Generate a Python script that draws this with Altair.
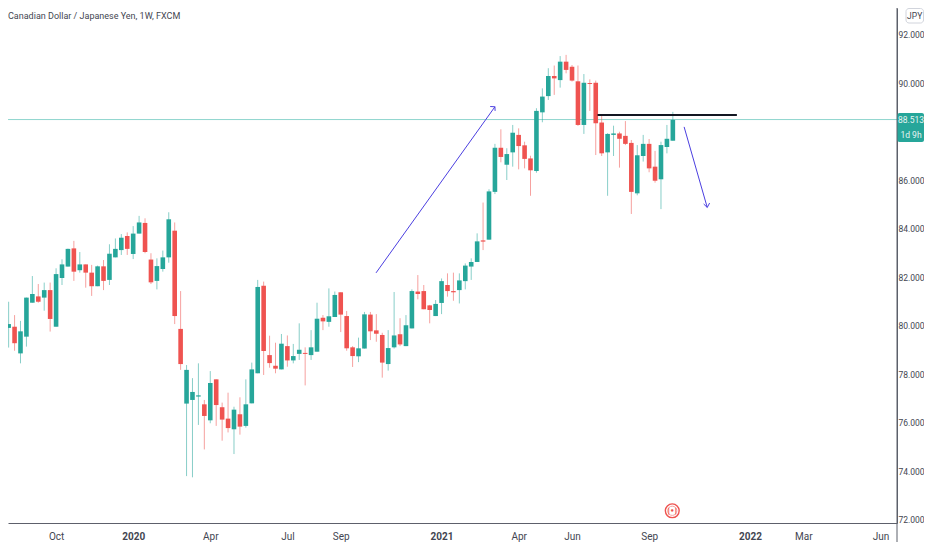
import altair as alt
import pandas as pd

# one letter per weekly candle: u = close above open, d = close below open
direction_blocks = [
    "duduuududu", "uududdudUu".lower(), "uduudduuud", "duuududddu",
    "duuuddduDu".lower(), "uduuduuddd", "uuddduuduu", "ddduudduuu",
    "uduuduuddd", "uuududdDud".lower(), "dduuddduud", "duuu",
]
directions = list("".join(direction_blocks))

highs = [81.14,81.00,80.45,80.21,81.17,82.06,81.73,81.79,81.79,82.38,
         82.75,83.19,83.51,83.05,82.54,82.52,82.49,82.72,83.37,83.61,
         83.79,83.86,84.12,84.54,84.44,83.00,82.79,83.11,84.69,84.27,
         81.44,78.39,77.85,78.46,76.95,78.14,77.80,76.84,77.25,76.67,
         77.06,77.80,78.49,81.90,81.83,79.60,79.31,79.67,79.61,79.26,
         80.11,79.12,79.83,80.96,80.45,81.55,81.42,81.39,80.62,79.17,
         79.52,80.58,80.58,80.49,79.72,79.83,81.40,80.32,80.45,81.51,
         82.10,81.69,80.87,81.07,81.96,82.17,82.20,82.17,82.58,82.79,
         83.82,85.09,85.64,87.51,88.11,87.33,88.29,88.15,87.60,87.02,
         88.98,89.80,90.63,90.74,91.13,91.18,90.76,90.74,90.39,90.17,
         90.12,88.70,87.95,88.26,88.01,88.45,87.67,87.46,87.88,87.71,
         87.22,87.60,88.29,88.83]
tops = [80.59,80.08,79.97,79.78,81.17,81.32,81.22,81.48,81.48,82.14,
        82.54,83.18,83.20,82.54,82.54,82.20,82.46,82.46,82.98,83.18,
        83.64,83.71,83.81,84.27,84.25,82.74,82.47,82.83,84.40,83.93,
        79.88,78.19,77.28,77.14,76.77,77.65,77.80,76.65,76.18,76.55,
        76.36,76.77,78.21,81.61,81.66,78.80,78.36,79.27,79.17,78.76,
        79.02,78.89,79.12,80.30,80.34,80.40,81.28,81.39,80.41,79.12,
        79.08,80.48,80.47,79.82,79.63,79.09,79.61,79.66,80.03,81.44,
        81.42,81.44,80.85,80.91,81.85,81.69,81.44,81.88,82.49,82.64,
        83.49,83.53,85.55,87.35,87.35,87.09,87.97,87.88,87.45,86.91,
        88.87,89.46,90.31,90.31,90.90,90.90,90.69,90.09,90.03,90.02,
        90.03,88.39,87.92,87.94,87.94,87.84,87.55,87.04,87.51,87.51,
        86.57,87.46,87.72,88.50]
bottoms = [79.88,79.92,79.29,78.87,79.56,80.96,81.00,81.17,80.29,79.97,
           81.98,82.45,82.24,82.30,82.20,81.64,81.64,81.86,81.90,82.83,
           83.13,83.18,82.97,83.81,83.05,81.80,81.86,82.35,82.83,80.41,
           78.43,76.80,76.95,77.09,76.29,76.11,76.74,76.14,75.79,75.74,
           75.85,75.88,76.81,78.05,78.97,78.47,78.24,78.21,78.58,78.58,
           78.85,78.85,78.80,78.94,80.19,80.17,80.37,80.47,79.08,78.76,
           78.75,79.07,79.78,79.68,78.49,78.43,79.12,79.24,79.17,79.90,
           81.32,80.69,80.66,80.41,80.95,81.44,81.39,81.48,81.85,82.45,
           82.64,83.48,83.56,85.53,86.97,86.65,87.16,87.42,86.89,86.42,
           86.39,88.81,89.48,90.21,90.14,90.56,90.12,88.29,88.29,89.98,
           88.36,87.12,87.16,87.88,87.72,87.51,85.53,85.47,87.01,86.50,
           85.99,86.05,87.38,87.64]
lows = [79.05,79.11,78.98,78.46,79.15,80.96,80.96,80.63,79.77,79.97,
        81.69,82.45,81.86,82.20,81.58,81.24,81.64,81.48,81.69,82.83,
        82.93,82.93,82.76,83.81,83.00,81.73,81.51,82.24,82.61,80.08,
        78.19,73.81,73.76,75.92,74.91,75.99,75.88,75.27,75.61,74.72,
        75.52,75.81,76.81,78.05,77.98,78.28,78.05,78.21,78.32,78.46,
        78.60,77.55,78.60,78.94,79.83,79.97,80.37,79.75,78.98,78.31,
        78.51,79.07,79.42,79.35,77.87,78.16,79.07,79.17,79.17,79.90,
        81.10,80.69,80.11,80.41,80.49,81.21,81.04,80.93,81.51,81.90,
        82.64,83.13,83.56,85.44,86.75,86.02,86.57,86.46,86.50,85.37,
        86.32,88.40,89.32,89.53,89.83,90.42,90.08,88.25,87.92,88.87,
        87.05,87.01,85.37,87.01,86.53,87.46,84.62,85.39,86.78,86.34,
        85.91,84.82,87.12,87.64]

first_monday = pd.Timestamp("2019-08-05")
MS_WEEK = 7 * 24 * 3600 * 1000


def week_ms(week):
    return int(first_monday.value // 10**6 + week * MS_WEEK)


def date_ms(text):
    return int(pd.Timestamp(text).value // 10**6)


candles = pd.DataFrame({
    "t": [week_ms(i) for i in range(len(highs))],
    "high": highs, "top": tops, "bottom": bottoms, "low": lows,
    "dir": directions,
})

tick_dates = ["2019-08-05", "2019-10-07", "2020-01-06", "2020-04-06", "2020-07-06",
              "2020-09-07", "2021-01-04", "2021-04-05", "2021-06-07", "2021-09-06",
              "2022-01-03", "2022-03-07", "2022-06-06"]
price_ticks = [72, 74, 76, 78, 80, 82, 84, 86, 90, 92]

arrow_up_weeks = [62.95, 83.0, None, 82.2, 83.0, 83.03]
arrow_up_prices = [82.19, 89.04, None, 89.05, 89.04, 88.87]
arrow_down_weeks = [114.9, 118.8, None, 118.2, 118.8, 119.2]
arrow_down_prices = [88.21, 84.89, None, 85.03, 84.89, 85.07]
level_weeks = [100.3, 123.8]
level_price = 88.70
last_price = 88.513
last_price_weeks = [0.9, 150.8]
flag_week = 112.9
flag_price = 72.38

TEAL, RED = "#26a69a", "#ef5350"
AXIS = "#5d606b"
TEXT = "#434651"
FONT = "Roboto"

x_scale = alt.Scale(type="utc", padding=0,
                    domain=[date_ms("2019-08-11T06:00:00"), date_ms("2022-06-25T14:00:00")])
y_scale = alt.Scale(domain=[71.876, 93.113], nice=False, zero=False)
x_axis = alt.Axis(
    values=[date_ms(d) for d in tick_dates],
    labelExpr="utcmonth(datum.value)==0 ? utcFormat(datum.value,'%Y') : utcFormat(datum.value,'%b')",
    labelFontWeight={"condition": {"test": "utcmonth(datum.value)==0", "value": "bold"}, "value": "normal"},
    grid=False, ticks=False, domainColor=AXIS, domainWidth=1, labelColor=TEXT, labelFont=FONT,
    labelFontSize=10, labelPadding=8, labelOverlap=False, labelBound=False, labelFlush=False, title=None)
y_axis = alt.Axis(
    orient="right", values=price_ticks, format=".3f", grid=False, ticks=False,
    domainColor=AXIS, domainWidth=1, labelColor=TEXT, labelFont=FONT, labelFontSize=8.5,
    labelPadding=1, labelOverlap=False, labelBound=False, title=None)
X = alt.X("t:T", scale=x_scale, axis=x_axis)
color = alt.Color("dir:N", legend=None, scale=alt.Scale(domain=["u", "d"], range=[TEAL, RED]))


def Y(field):
    return alt.Y(field + ":Q", scale=y_scale, axis=y_axis)


wicks = alt.Chart(candles).mark_rule(strokeWidth=1, opacity=0.55).encode(
    x=X, y=Y("low"), y2="high:Q", color=color)
bodies = alt.Chart(candles).mark_bar(size=4.6).encode(
    x=X, y=Y("top"), y2="bottom:Q", color=color)


def line_frame(weeks, prices):
    rows, seg = [], 0
    for w, p in zip(weeks, prices):
        if w is None:
            seg += 1
        else:
            rows.append({"t": week_ms(w), "p": p, "seg": seg})
    return pd.DataFrame(rows)


def line_layer(frame, col, width):
    return alt.Chart(frame).mark_line(color=col, strokeWidth=width).encode(
        x=X, y=Y("p"), detail="seg:N")


arrow_up = line_layer(line_frame(arrow_up_weeks, arrow_up_prices), "#4b3fe0", 1)
arrow_down = line_layer(line_frame(arrow_down_weeks, arrow_down_prices), "#4b3fe0", 1)
level = line_layer(line_frame(level_weeks, [level_price, level_price]), "#131722", 2)
price_line = line_layer(line_frame(last_price_weeks, [last_price, last_price]), "#8fd6ce", 1)

price_df = pd.DataFrame({"p": [last_price]})
tag = alt.Chart(price_df).mark_rect(color=TEAL, cornerRadius=2).encode(
    x=alt.value(889.5), x2=alt.value(916), y=alt.value(105), y2=alt.value(134))
tag_text1 = alt.Chart(pd.DataFrame({"s": ["88.513"]})).mark_text(
    color="#e6f4f2", font=FONT, fontSize=8.5, align="center", baseline="middle").encode(
    x=alt.value(903), y=alt.value(112), text="s:N")
tag_text2 = alt.Chart(pd.DataFrame({"s": ["1d 9h"]})).mark_text(
    color="#e6f4f2", font=FONT, fontSize=8.5, align="center", baseline="middle").encode(
    x=alt.value(903), y=alt.value(127), text="s:N")

axis_tail = alt.Chart(pd.DataFrame({"a": [0]})).mark_rule(color=AXIS, strokeWidth=1).encode(
    x=alt.value(889), y=alt.value(0), y2=alt.value(534))

jpy_box = alt.Chart(pd.DataFrame({"a": [0]})).mark_rect(
    fill="white", stroke="#d1d4dc", strokeWidth=1, cornerRadius=3).encode(
    x=alt.value(898), x2=alt.value(915.5), y=alt.value(0.5), y2=alt.value(15))
jpy = alt.Chart(pd.DataFrame({"s": ["JPY"]})).mark_text(
    color=TEXT, font=FONT, fontSize=8.5, align="center", baseline="middle").encode(
    x=alt.value(906.7), y=alt.value(7.5), text="s:N")

title = alt.Chart(pd.DataFrame({"s": ["Canadian Dollar / Japanese Yen, 1W, FXCM"]})).mark_text(
    color=TEXT, font=FONT, fontSize=9, align="left", baseline="middle").encode(
    x=alt.value(0), y=alt.value(8), text="s:N")

flag_df = pd.DataFrame({"t": [week_ms(flag_week)], "p": [flag_price], "s": ["|•|"]})
flag_ring = alt.Chart(flag_df).mark_point(shape="circle", size=190, stroke=RED, strokeWidth=1.4, fill="white", fillOpacity=1).encode(x=X, y=Y("p"))
flag_inner = alt.Chart(flag_df).mark_point(shape="circle", size=85, stroke="#f4a3a1", strokeWidth=1, fill="white", fillOpacity=1).encode(x=X, y=Y("p"))
flag_mark = alt.Chart(flag_df).mark_text(color=RED, font="DejaVu Sans", fontSize=7, fontWeight="bold", align="center", baseline="middle").encode(text="s:N", x=X, y=Y("p"))

chart = alt.layer(
    price_line, wicks, bodies, arrow_up, arrow_down, level,
    flag_ring, flag_inner, flag_mark, axis_tail, tag, tag_text1, tag_text2, jpy_box, jpy, title,
).properties(
    width=889, height=515,
    autosize=alt.AutoSizeParams(type="none"),
    padding={"left": 0, "top": 0, "right": 27, "bottom": 19},
    background="white",
).configure_view(stroke=None)

chart.save("out.html", embed_options={"renderer": "svg", "actions": False})
